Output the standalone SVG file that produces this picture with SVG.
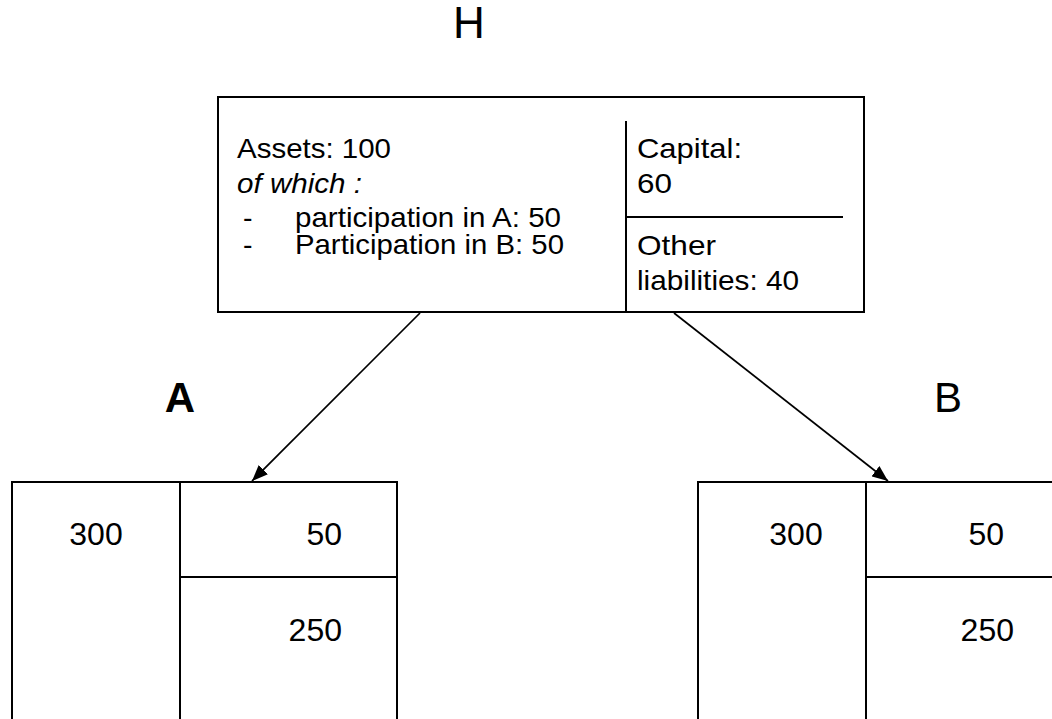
<svg xmlns="http://www.w3.org/2000/svg" width="1052" height="719" viewBox="0 0 1052 719">
  <defs>
    <style>
      .box { fill: #ffffff; stroke: #000000; stroke-width: 2; }
      .ln { stroke: #000000; stroke-width: 2; fill: none; }
      .conn { stroke: #000000; stroke-width: 1.7; fill: none; marker-end: url(#arrow); }
      .t { font-family: "Liberation Sans", Arial, sans-serif; fill: #000000; }
      .body { font-size: 28.5px; }
      .num { font-size: 32px; }
      .lbl { font-size: 42px; }
    </style>
    <marker id="arrow" viewBox="0 0 16 13" refX="16" refY="6.5" markerWidth="16" markerHeight="13" markerUnits="userSpaceOnUse" orient="auto">
      <path d="M0,0 L16,6.5 L0,13 z" fill="#000000"/>
    </marker>
  </defs>

  <g id="label-H">
    <text class="t" x="469" y="38" text-anchor="middle" font-size="44">H</text>
  </g>

  <g id="node-H">
    <rect class="box" x="218" y="97" width="646" height="215"/>
    <line class="ln" x1="626" y1="121" x2="626" y2="312"/>
    <line class="ln" x1="626" y1="217" x2="843" y2="217"/>
    <text class="t body" x="237" y="158" textLength="154" lengthAdjust="spacingAndGlyphs">Assets: 100</text>
    <text class="t body" x="237" y="193" font-style="italic" textLength="125" lengthAdjust="spacingAndGlyphs">of which :</text>
    <text class="t body" x="243" y="227">-</text>
    <text class="t body" x="295" y="227" textLength="266" lengthAdjust="spacingAndGlyphs">participation in A: 50</text>
    <text class="t body" x="243" y="254">-</text>
    <text class="t body" x="295" y="254" textLength="269" lengthAdjust="spacingAndGlyphs">Participation in B: 50</text>
    <text class="t body" x="637" y="158" textLength="105" lengthAdjust="spacingAndGlyphs">Capital:</text>
    <text class="t body" x="637" y="193" textLength="35" lengthAdjust="spacingAndGlyphs">60</text>
    <text class="t body" x="637" y="255" textLength="79" lengthAdjust="spacingAndGlyphs">Other</text>
    <text class="t body" x="637" y="290" textLength="162" lengthAdjust="spacingAndGlyphs">liabilities: 40</text>
  </g>

  <g id="label-A">
    <text class="t lbl" x="180" y="412" text-anchor="middle" font-weight="bold">A</text>
  </g>

  <g id="node-A">
    <rect class="box" x="12" y="482" width="385" height="250"/>
    <line class="ln" x1="180" y1="482" x2="180" y2="719"/>
    <line class="ln" x1="180" y1="577" x2="397" y2="577"/>
    <text class="t num" x="96" y="545" text-anchor="middle">300</text>
    <text class="t num" x="342" y="545" text-anchor="end">50</text>
    <text class="t num" x="342" y="641" text-anchor="end">250</text>
  </g>

  <g id="label-B">
    <text class="t lbl" x="948" y="412" text-anchor="middle">B</text>
  </g>

  <g id="node-B">
    <rect class="box" x="698" y="482" width="370" height="250"/>
    <line class="ln" x1="866" y1="482" x2="866" y2="719"/>
    <line class="ln" x1="866" y1="577" x2="1052" y2="577"/>
    <text class="t num" x="796" y="545" text-anchor="middle">300</text>
    <text class="t num" x="1004" y="545" text-anchor="end">50</text>
    <text class="t num" x="1014" y="641" text-anchor="end">250</text>
  </g>

  <g id="connectors">
    <line class="conn" x1="420" y1="313" x2="252" y2="481"/>
    <line class="conn" x1="674" y1="313" x2="888" y2="481"/>
  </g>
</svg>
